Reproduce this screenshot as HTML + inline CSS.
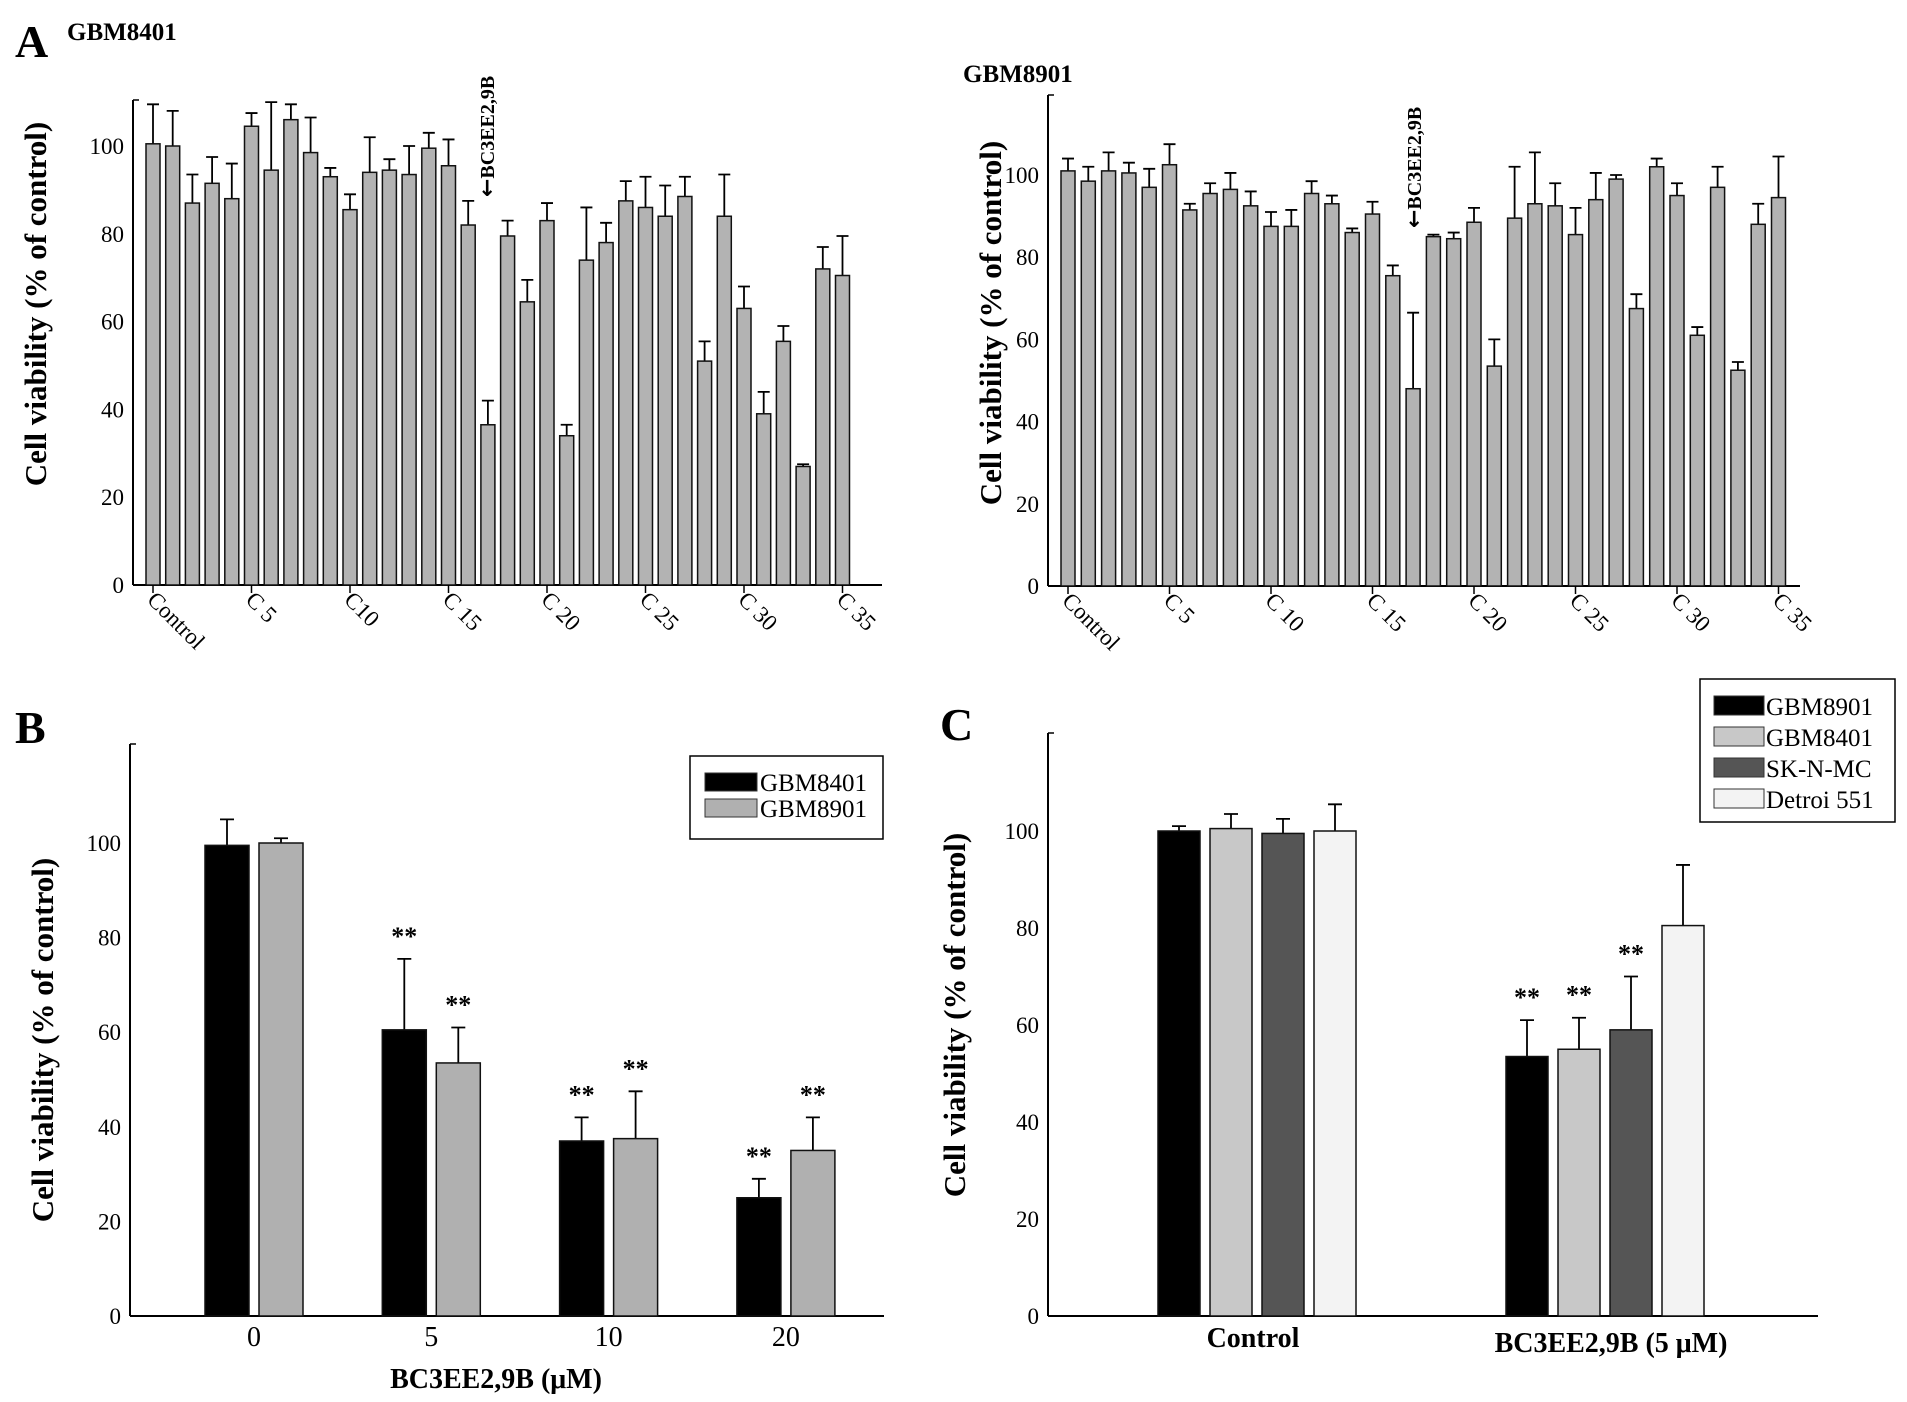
<!DOCTYPE html>
<html><head><meta charset="utf-8"><style>
html,body{margin:0;padding:0;background:#fff}
svg{display:block;font-family:"Liberation Serif",serif}
</style></head><body>
<svg id="fig" width="1907" height="1402" viewBox="0 0 1907 1402" xmlns="http://www.w3.org/2000/svg">
<text x="15" y="57" font-size="46" font-weight="bold">A</text>
<text x="67" y="40" font-size="25" font-weight="bold">GBM8401</text>
<text x="963" y="82" font-size="25" font-weight="bold">GBM8901</text>
<text x="15" y="743" font-size="46" font-weight="bold">B</text>
<text x="940" y="740" font-size="46" font-weight="bold">C</text>
<text transform="translate(46,304) rotate(-90)" text-anchor="middle" font-size="31" font-weight="bold">Cell viability (% of control)</text>
<text transform="translate(1001,323) rotate(-90)" text-anchor="middle" font-size="31" font-weight="bold">Cell viability (% of control)</text>
<text transform="translate(53,1040) rotate(-90)" text-anchor="middle" font-size="31" font-weight="bold">Cell viability (% of control)</text>
<text transform="translate(965,1015) rotate(-90)" text-anchor="middle" font-size="31" font-weight="bold">Cell viability (% of control)</text>
<text transform="translate(494,197) rotate(-90)" font-size="20" font-weight="bold"><tspan font-family="DejaVu Sans" font-size="22">←</tspan>BC3EE2,9B</text>
<text transform="translate(1421,228) rotate(-90)" font-size="20" font-weight="bold"><tspan font-family="DejaVu Sans" font-size="22">←</tspan>BC3EE2,9B</text>
<text x="496" y="1388" text-anchor="middle" font-size="28" font-weight="bold">BC3EE2,9B (μM)</text>
<text x="1253" y="1347" text-anchor="middle" font-size="28" font-weight="bold">Control</text>
<text x="1611" y="1352" text-anchor="middle" font-size="28" font-weight="bold">BC3EE2,9B (5 μM)</text>
</svg>
<script>
// Panel A data
const aLabels1 = ["Control","C 5","C10","C 15","C 20","C 25","C 30","C 35"];
const aLabels2 = ["Control","C 5","C 10","C 15","C 20","C 25","C 30","C 35"];
const a1Values = [100.5,100,87,91.5,88,104.5,94.5,106,98.5,93,85.5,94,94.5,93.5,99.5,95.5,82,36.5,79.5,64.5,83,34,74,78,87.5,86,84,88.5,51,84,63,39,55.5,27,72,70.5];
const a1Err = [109.5,108,93.5,97.5,96,107.5,110,109.5,106.5,95,89,102,97,100,103,101.5,87.5,42,83,69.5,87,36.5,86,82.5,92,93,91,93,55.5,93.5,68,44,59,27.5,77,79.5];
const a2Values = [101,98.5,101,100.5,97,102.5,91.5,95.5,96.5,92.5,87.5,87.5,95.5,93,86,90.5,75.5,48,85,84.5,88.5,53.5,89.5,93,92.5,85.5,94,99,67.5,102,95,61,97,52.5,88,94.5];
const a2Err = [104,102,105.5,103,101.5,107.5,93,98,100.5,96,91,91.5,98.5,95,87,93.5,78,66.5,85.5,86,92,60,102,105.5,98,92,100.5,100,71,104,98,63,102,54.5,93,104.5];
const yTicks = [0,20,40,60,80,100];
// Panel B data
const bGroups = ["0","5","10","20"];
const bSeries = ["GBM8401","GBM8901"];
const b8401 = [99.5,60.5,37,25];
const b8401Err = [105,75.5,42,29];
const b8901 = [100,53.5,37.5,35];
const b8901Err = [101,61,47.5,42];
const bSig8401 = [false,true,true,true];
const bSig8901 = [false,true,true,true];
// Panel C data
const cGroups = ["Control","BC3EE2,9B (5 μM)"];
const cSeries = ["GBM8901","GBM8401","SK-N-MC","Detroi 551"];
const c8901 = [100,53.5], c8901Err = [101,61];
const c8401 = [100.5,55], c8401Err = [103.5,61.5];
const cSK = [99.5,59], cSKErr = [102.5,70];
const cDet = [100,80.5], cDetErr = [105.5,93];
const cSig = [[false,true],[false,true],[false,true],[false,false]];

const svg = document.getElementById('fig');
const NS = 'http://www.w3.org/2000/svg';
function mk(tag, attrs){const e=document.createElementNS(NS,tag);for(const k in attrs)e.setAttribute(k,attrs[k]);svg.appendChild(e);return e;}
function scale(y0,y100){return v=>y0-(y0-y100)*v/100;}

function axes(prefix, ax, y0, top, xEnd, ys){
  let l=mk('line',{x1:ax,y1:top,x2:ax,y2:y0,stroke:'#000','stroke-width':2});
  
  
  l=mk('line',{x1:ax,y1:y0,x2:xEnd,y2:y0,stroke:'#000','stroke-width':2});
  
  
  l=mk('line',{x1:ax,y1:top,x2:ax+6,y2:top,stroke:'#000','stroke-width':1.5});
  
  
  yTicks.forEach(t=>{
    const tx=mk('text',{x:ax-9,y:ys(t)+8,'text-anchor':'end','font-size':23});
    tx.textContent=t;
    
    
  });
}
function errBar(x,yTop,yBar,cap,prefix){
  const g=mk('path',{d:`M${x},${yBar}V${yTop}M${x-cap},${yTop}H${x+cap}`,stroke:'#000','stroke-width':1.8,fill:'none'});
  
  
}
function bar(x,w,v,ys,y0,fill,prefix){
  const r=mk('rect',{x:x-w/2,y:ys(v),width:w,height:y0-ys(v),fill:fill,stroke:'#111','stroke-width':1.5});
  
  
}
function star(x,y,prefix){
  const t=mk('text',{x:x,y:y,'text-anchor':'middle','font-size':26,'font-weight':'bold'});
  t.textContent='**';
  
  
}

function panelA(prefix, vals, errs, labels, ax, y0, y100, top, xEnd, x0, dx){
  const ys=scale(y0,y100);
  axes(prefix,ax,y0,top,xEnd,ys);
  vals.forEach((v,i)=>{
    const x=x0+i*dx;
    errBar(x,ys(errs[i]),ys(v),6,prefix);
    bar(x,14,v,ys,y0,'#b3b3b3',prefix+'-bar');
  });
  labels.forEach((lab,k)=>{
    const x=x0+k*5*dx;
    const tk=mk('line',{x1:x,y1:y0,x2:x,y2:y0+8,stroke:'#000','stroke-width':1.5});
    
    
    const t=mk('text',{x:0,y:0,'font-size':23,transform:`translate(${x-7},${y0+16}) rotate(45)`});
    t.textContent=lab;
    
    
  });
}
panelA('a1',a1Values,a1Err,aLabels1,133,585,146,100,882,153,19.7);
panelA('a2',a2Values,a2Err,aLabels2,1048,586,175,95,1800,1068,20.3);

// Panel B
(function(){
  const ys=scale(1316,843), ax=130, y0=1316;
  axes('b',ax,y0,744,884,ys);
  const centers=bGroups.map((g,i)=>254+i*177.3);
  bGroups.forEach((g,i)=>{
    const c=centers[i];
    errBar(c-27,ys(b8401Err[i]),ys(b8401[i]),7,'b');
    bar(c-27,44,b8401[i],ys,y0,'#000','b-bar-gbm8401');
    errBar(c+27,ys(b8901Err[i]),ys(b8901[i]),7,'b');
    bar(c+27,44,b8901[i],ys,y0,'#b0b0b0','b-bar-gbm8901');
    if(bSig8401[i]) star(c-27,ys(b8401Err[i])-14,'b');
    if(bSig8901[i]) star(c+27,ys(b8901Err[i])-14,'b');
    const t=mk('text',{x:c,y:1346,'text-anchor':'middle','font-size':28});
    t.textContent=g;
    
    
  });
  const lg=mk('rect',{x:690,y:756,width:193,height:83,fill:'#fff',stroke:'#000','stroke-width':1.5});
  
  
  const fills=['#000','#b0b0b0'];
  bSeries.forEach((s,i)=>{
    const r=mk('rect',{x:705,y:773+i*26,width:52,height:18,fill:fills[i],stroke:'#333','stroke-width':1});
    
    
    const t=mk('text',{x:760,y:791+i*26,'font-size':25});
    t.textContent=s;
    
    
  });
})();

// Panel C
(function(){
  const ys=scale(1316,831), ax=1048, y0=1316;
  axes('c',ax,y0,733,1818,ys);
  const vals=[c8901,c8401,cSK,cDet], errs=[c8901Err,c8401Err,cSKErr,cDetErr];
  const fills=['#000','#c8c8c8','#555','#f3f3f3'];
  const centers=[1257,1605];
  cGroups.forEach((g,gi)=>{
    vals.forEach((s,si)=>{
      const x=centers[gi]+(si-1.5)*52;
      errBar(x,ys(errs[si][gi]),ys(s[gi]),7,'c');
      bar(x,42,s[gi],ys,y0,fills[si],'c-bar-'+si);
      if(cSig[si][gi]) star(x,ys(errs[si][gi])-14,'c');
    });
  });
  const lg=mk('rect',{x:1700,y:679,width:195,height:143,fill:'#fff',stroke:'#000','stroke-width':1.5});
  
  
  cSeries.forEach((s,i)=>{
    const r=mk('rect',{x:1714,y:696+i*31,width:50,height:19,fill:fills[i],stroke:'#333','stroke-width':1});
    
    
    const t=mk('text',{x:1766,y:715+i*31,'font-size':25});
    t.textContent=s;
    
    
  });
})();
</script>
</body></html>
